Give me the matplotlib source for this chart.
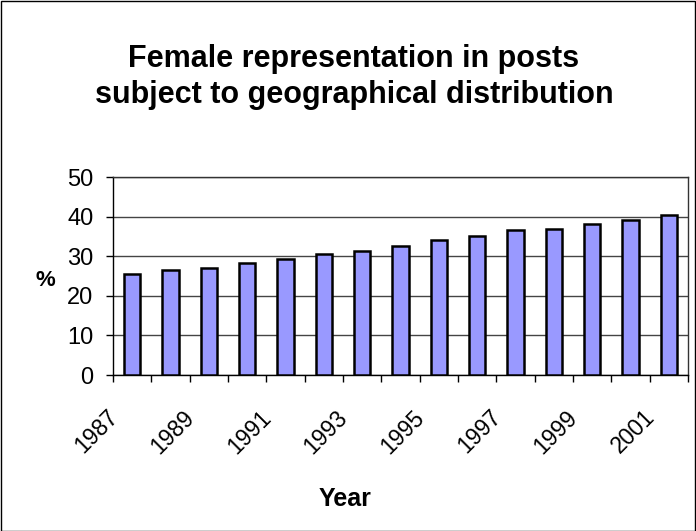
import numpy as np
import matplotlib.pyplot as plt
from matplotlib.patches import Rectangle
from matplotlib.ticker import FixedLocator
from matplotlib.transforms import ScaledTranslation

plt.rcParams['font.family'] = ['Liberation Sans', 'DejaVu Sans']

# Share of women in posts subject to geographical distribution (%)
years = list(range(1987, 2002))
share = [25.6, 26.4, 26.9, 28.2, 29.2, 30.5, 31.4, 32.6, 34.1, 35.1, 36.6, 36.9, 38.2, 39.2, 40.3]
y_ticks = [0, 10, 20, 30, 40, 50]

fig = plt.figure(figsize=(6.96, 5.31), dpi=100)
ax = fig.add_axes([113 / 696, 1 - 375 / 531, 575 / 696, 198 / 531])

x = np.arange(len(years))
ax.bar(x, share, width=0.42, color='#9999FF', edgecolor='black', linewidth=1.8, zorder=3)

ax.set_xlim(-0.5, len(years) - 0.5)
ax.set_ylim(0, 50)
ax.set_yticks(y_ticks)
ax.yaxis.grid(True, color='#444444', linewidth=1.0, zorder=0)

# labels for every other year, tick marks on category boundaries
ax.set_xticks(x[::2])
ax.set_xticklabels([str(y) for y in years[::2]], rotation=45, ha='right', va='center',
                   rotation_mode='anchor', fontsize=16.5)
ax.tick_params(axis='x', which='major', length=0, pad=28)
for lab in ax.get_xticklabels():
    lab.set_transform(lab.get_transform() + ScaledTranslation(-0.18, 0, fig.dpi_scale_trans))
ax.xaxis.set_minor_locator(FixedLocator(np.arange(-0.5, len(years), 1.0)))
ax.tick_params(axis='x', which='minor', length=5, width=1, direction='out')
ax.tick_params(axis='y', length=5, width=1, labelsize=17, pad=9)

for side in ['top', 'right']:
    ax.spines[side].set_color('#333333')
    ax.spines[side].set_linewidth(1.0)
for side in ['left', 'bottom']:
    ax.spines[side].set_linewidth(1.0)

fig.text(45 / 696, 1 - 281 / 531, '%', fontsize=16, fontweight='bold', ha='center', va='center')
fig.text(345 / 696, 1 - 499 / 531, 'Year', fontsize=18,
         fontweight='bold', ha='center', va='center')

fig.text(354 / 696, 1 - 77 / 531, 'Female representation in posts\nsubject to geographical distribution',
         fontsize=22, fontweight='bold', ha='center', va='center', linespacing=1.27)

fig.patches.append(Rectangle((0.5 / 696, 0.5 / 531), 1 - 1.5 / 696, 1 - 1.5 / 531,
                             transform=fig.transFigure, fill=False,
                             edgecolor='black', linewidth=1.0))

fig.savefig('out.png', dpi=100)
